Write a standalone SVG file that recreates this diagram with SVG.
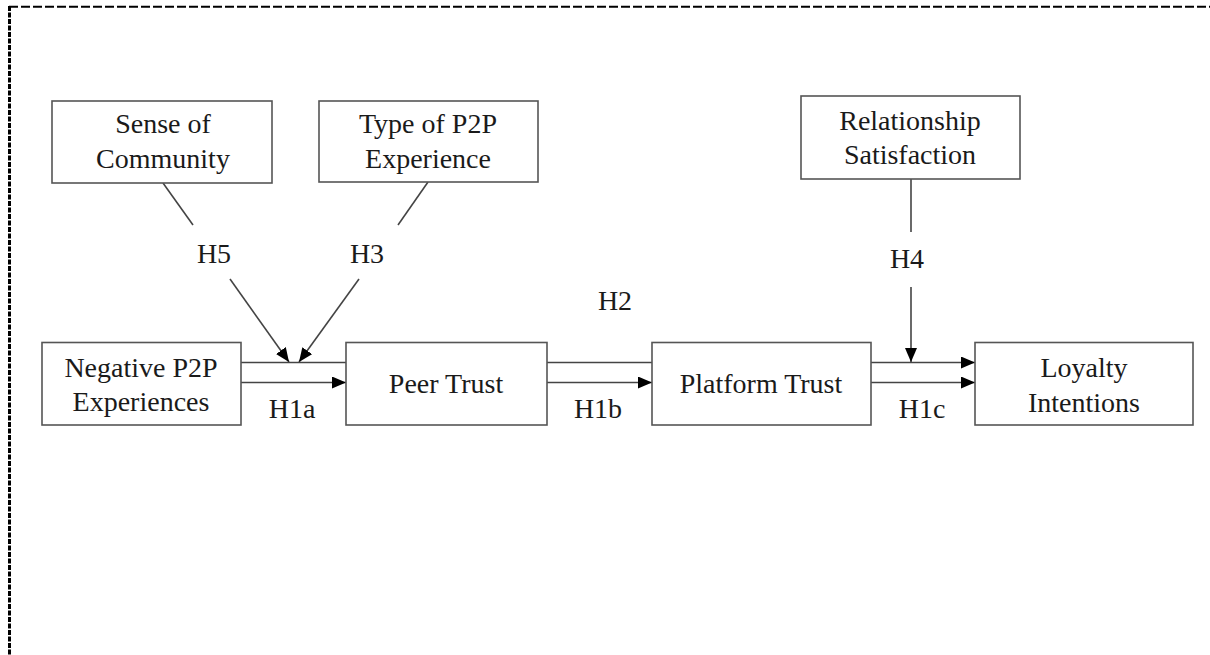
<svg xmlns="http://www.w3.org/2000/svg" width="1210" height="655" viewBox="0 0 1210 655">
<style>
.box{fill:#fff;stroke:#555;stroke-width:1.6}
.t{font-family:"Liberation Serif","Times New Roman",serif;font-size:28px;fill:#1a1a1a;text-anchor:middle}
.c{stroke:#444;stroke-width:1.6;fill:none}
</style>
<defs>
<marker id="ah" viewBox="0 0 14 12" refX="14" refY="6" markerWidth="14" markerHeight="12" markerUnits="userSpaceOnUse" orient="auto">
<path d="M0,0 L14,6 L0,12 Z" fill="#000"/>
</marker>
</defs>
<rect width="1210" height="655" fill="#fff"/>
<g id="border">
<line x1="9" y1="6.8" x2="1210" y2="6.8" stroke="#000" stroke-width="2" stroke-dasharray="9 3"/>
<line x1="9.5" y1="6" x2="9.5" y2="655" stroke="#000" stroke-width="3" stroke-dasharray="5 1.5"/>
</g>
<g id="connectors">
<line class="c" x1="163" y1="183" x2="193" y2="225"/>
<line class="c" x1="230" y1="279" x2="289" y2="362" marker-end="url(#ah)"/>
<line class="c" x1="428" y1="182" x2="398" y2="225"/>
<line class="c" x1="359" y1="279" x2="299" y2="362" marker-end="url(#ah)"/>
<line class="c" x1="241" y1="362.5" x2="346" y2="362.5"/>
<line class="c" x1="241" y1="382.5" x2="346" y2="382.5" marker-end="url(#ah)"/>
<line class="c" x1="547" y1="362.5" x2="652" y2="362.5"/>
<line class="c" x1="547" y1="382.5" x2="652" y2="382.5" marker-end="url(#ah)"/>
<line class="c" x1="871" y1="362.5" x2="975" y2="362.5" marker-end="url(#ah)"/>
<line class="c" x1="871" y1="382.5" x2="975" y2="382.5" marker-end="url(#ah)"/>
<line class="c" x1="911" y1="179" x2="911" y2="232"/>
<line class="c" x1="911" y1="287" x2="911" y2="362" marker-end="url(#ah)"/>
<text class="t" x="214" y="263">H5</text>
<text class="t" x="367" y="263">H3</text>
<text class="t" x="907" y="268">H4</text>
<text class="t" x="615" y="310">H2</text>
<text class="t" x="292" y="418">H1a</text>
<text class="t" x="598" y="418">H1b</text>
<text class="t" x="922" y="418">H1c</text>
</g>
<g id="sense">
<rect class="box" x="52" y="101" width="220" height="82"/>
<text class="t" x="163" y="133">Sense of</text>
<text class="t" x="163" y="168">Community</text>
</g>
<g id="type">
<rect class="box" x="319" y="101" width="219" height="81"/>
<text class="t" x="428" y="133">Type of P2P</text>
<text class="t" x="428" y="168">Experience</text>
</g>
<g id="relsat">
<rect class="box" x="801" y="96" width="219" height="83"/>
<text class="t" x="910" y="130">Relationship</text>
<text class="t" x="910" y="164">Satisfaction</text>
</g>
<g id="negative">
<rect class="box" x="42" y="342.5" width="199" height="82.5"/>
<text class="t" x="141" y="377">Negative P2P</text>
<text class="t" x="141" y="411">Experiences</text>
</g>
<g id="peer">
<rect class="box" x="346" y="342.5" width="201" height="82.5"/>
<text class="t" x="446" y="393">Peer Trust</text>
</g>
<g id="platform">
<rect class="box" x="652" y="342.5" width="219" height="82.5"/>
<text class="t" x="761" y="393">Platform Trust</text>
</g>
<g id="loyalty">
<rect class="box" x="975" y="342.5" width="218" height="82.5"/>
<text class="t" x="1084" y="377">Loyalty</text>
<text class="t" x="1084" y="412">Intentions</text>
</g>
</svg>
